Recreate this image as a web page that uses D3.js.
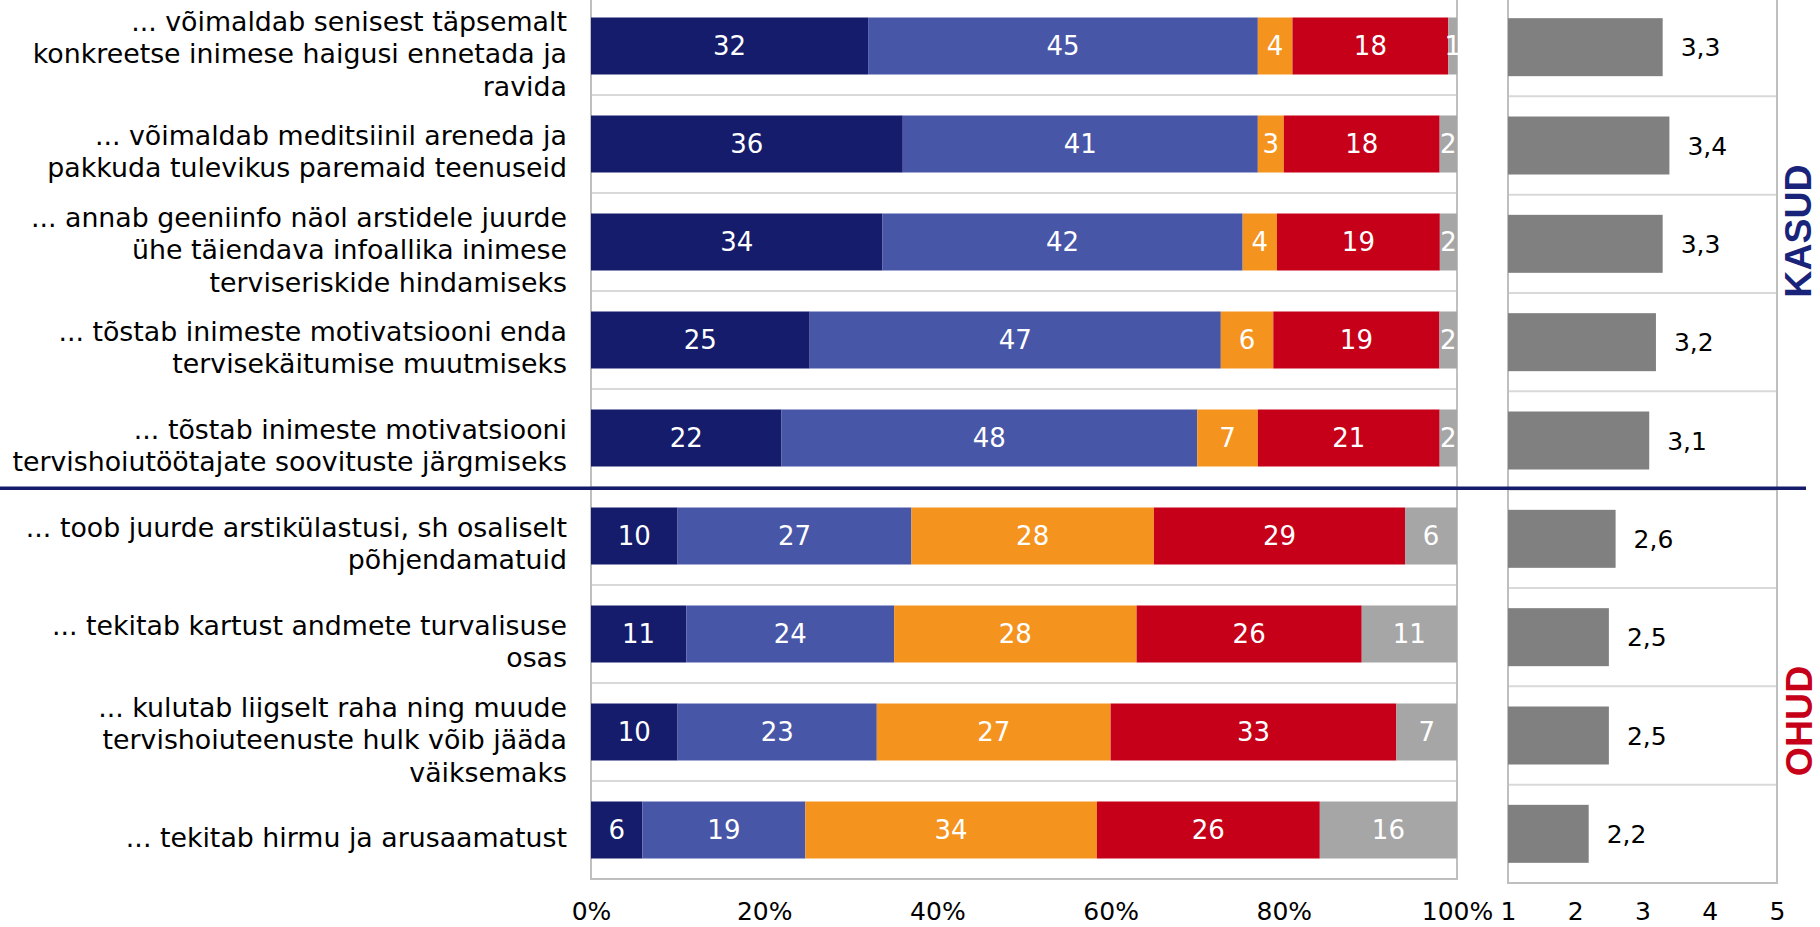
<!DOCTYPE html>
<html>
<head>
<meta charset="utf-8">
<script src="https://cdn.jsdelivr.net/npm/d3@7"></script>
<style>
  html, body { margin: 0; padding: 0; background: #ffffff; }
  svg { display: block; }
</style>
</head>
<body>
<svg id="chart" width="1820" height="927"></svg>
<script>
// ---------- data ----------
const categories = [
  ["... võimaldab senisest täpsemalt", "konkreetse inimese haigusi ennetada ja", "ravida"],
  ["... võimaldab meditsiinil areneda ja", "pakkuda tulevikus paremaid teenuseid"],
  ["... annab geeniinfo näol arstidele juurde", "ühe täiendava infoallika inimese", "terviseriskide hindamiseks"],
  ["... tõstab inimeste motivatsiooni enda", "tervisekäitumise muutmiseks"],
  ["... tõstab inimeste motivatsiooni", "tervishoiutöötajate soovituste järgmiseks"],
  ["... toob juurde arstikülastusi, sh osaliselt", "põhjendamatuid"],
  ["... tekitab kartust andmete turvalisuse", "osas"],
  ["... kulutab liigselt raha ning muude", "tervishoiuteenuste hulk võib jääda", "väiksemaks"],
  ["... tekitab hirmu ja arusaamatust"]
];
const seriesNames = ["s1", "s2", "s3", "s4", "s5"];
const s1 = [32, 36, 34, 25, 22, 10, 11, 10, 6];
const s2 = [45, 41, 42, 47, 48, 27, 24, 23, 19];
const s3 = [4, 3, 4, 6, 7, 28, 28, 27, 34];
const s4 = [18, 18, 19, 19, 21, 29, 26, 33, 26];
const s5 = [1, 2, 2, 2, 2, 6, 11, 7, 16];
const means = [3.3, 3.4, 3.3, 3.2, 3.1, 2.6, 2.5, 2.5, 2.2];
const pctTicks = [0, 0.2, 0.4, 0.6, 0.8, 1];
const meanTicks = [1, 2, 3, 4, 5];
const groupLabels = ["KASUD", "OHUD"];

// ---------- styles ----------
const colors = ["#141C6B", "#4856A7", "#F5931F", "#C7001A", "#A6A6A6"];
const FONT = "'DejaVu Sans', Verdana, sans-serif";

const svg = d3.select("#chart");
const rows = d3.range(categories.length);
const table = rows.map(i => ({ i, s1: s1[i], s2: s2[i], s3: s3[i], s4: s4[i], s5: s5[i] }));

// ---------- left chart (100% stacked) ----------
const L = { x0: 591, x1: 1457, top: -3, bottom: 879 };
const xL = d3.scaleLinear().domain([0, 1]).range([L.x0, L.x1]);
const yL = d3.scaleBand().domain(rows).range([L.top, L.bottom]).padding(0);
const barHL = 57;

const stack = d3.stack().keys(seriesNames).offset(d3.stackOffsetExpand);
const stacked = stack(table);

// separators
svg.append("g").selectAll("line")
  .data(rows.slice(1))
  .join("line")
  .attr("x1", L.x0).attr("x2", L.x1)
  .attr("y1", d => yL(d)).attr("y2", d => yL(d))
  .attr("stroke", "#D9D9D9").attr("stroke-width", 2);

// frame
svg.append("path")
  .attr("d", `M${L.x0},${L.top}V${L.bottom}H${L.x1}V${L.top}`)
  .attr("fill", "none").attr("stroke", "#BFBFBF").attr("stroke-width", 2);

const gL = svg.append("g");
stacked.forEach((layer, k) => {
  const g = gL.append("g");
  g.selectAll("rect").data(layer).join("rect")
    .attr("x", d => xL(d[0]))
    .attr("width", d => xL(d[1]) - xL(d[0]))
    .attr("y", d => yL(d.data.i) + (yL.bandwidth() - barHL) / 2)
    .attr("height", barHL)
    .attr("fill", colors[k]);
});
stacked.forEach((layer, k) => {
  gL.append("g").selectAll("text").data(layer).join("text")
    .attr("x", d => (xL(d[0]) + xL(d[1])) / 2)
    .attr("y", d => yL(d.data.i) + yL.bandwidth() / 2)
    .attr("dy", "0.36em")
    .attr("text-anchor", "middle")
    .attr("font-family", FONT).attr("font-size", 26)
    .attr("fill", "#ffffff")
    .text(d => d.data[layer.key]);
});

// category labels
const lh = 32.5;
const gCat = svg.append("g");
rows.forEach(i => {
  const lines = categories[i];
  const cy = yL(i) + yL.bandwidth() / 2 + 9;
  const t = gCat.append("text")
    .attr("text-anchor", "end")
    .attr("font-family", FONT).attr("font-size", 26.8)
    .attr("fill", "#000");
  lines.forEach((ln, j) => {
    t.append("tspan")
      .attr("x", 567)
      .attr("y", cy + (j - (lines.length - 1) / 2) * lh)
      .attr("dy", "0.3em")
      .text(ln);
  });
});

// x axis left
const axL = svg.append("g").attr("transform", `translate(0,${L.bottom})`)
  .call(d3.axisBottom(xL).tickValues(pctTicks).tickSize(0).tickPadding(0).tickFormat(d3.format(".0%")));
axL.select(".domain").remove();
axL.selectAll("text").attr("font-family", FONT).attr("font-size", 25).attr("fill", "#000")
  .attr("y", 41).attr("dy", 0);

// ---------- right chart (means) ----------
const R = { x0: 1508, x1: 1777, top: -2, bottom: 883 };
const xR = d3.scaleLinear().domain([1, 5]).range([R.x0, R.x1]);
const yR = d3.scaleBand().domain(rows).range([R.top, R.bottom]).padding(0);
const barHR = 58;

svg.append("g").selectAll("line")
  .data(rows.slice(1))
  .join("line")
  .attr("x1", R.x0).attr("x2", R.x1)
  .attr("y1", d => yR(d)).attr("y2", d => yR(d))
  .attr("stroke", "#D9D9D9").attr("stroke-width", 2);

svg.append("path")
  .attr("d", `M${R.x0},${R.top}V${R.bottom}H${R.x1}V${R.top}`)
  .attr("fill", "none").attr("stroke", "#BFBFBF").attr("stroke-width", 2);

svg.append("g").selectAll("rect").data(rows).join("rect")
  .attr("x", xR(1))
  .attr("width", i => xR(means[i]) - xR(1))
  .attr("y", i => yR(i) + (yR.bandwidth() - barHR) / 2)
  .attr("height", barHR)
  .attr("fill", "#808080");

svg.append("g").selectAll("text").data(rows).join("text")
  .attr("x", i => xR(means[i]) + 18)
  .attr("y", i => yR(i) + yR.bandwidth() / 2)
  .attr("dy", "0.36em")
  .attr("font-family", FONT).attr("font-size", 25)
  .attr("fill", "#000")
  .text(i => d3.format(".1f")(means[i]).replace(".", ","));

const axR = svg.append("g").attr("transform", `translate(0,${L.bottom})`)
  .call(d3.axisBottom(xR).tickValues(meanTicks).tickSize(0).tickPadding(0).tickFormat(d3.format("d")));
axR.select(".domain").remove();
axR.selectAll("text").attr("font-family", FONT).attr("font-size", 25).attr("fill", "#000")
  .attr("y", 41).attr("dy", 0);

// ---------- divider and group labels ----------
svg.append("line")
  .attr("x1", 0).attr("x2", 1806)
  .attr("y1", (yR(4) + yR.bandwidth() + yL(5)) / 2)
  .attr("y2", (yR(4) + yR.bandwidth() + yL(5)) / 2)
  .attr("stroke", "#141C6B").attr("stroke-width", 3.5);

svg.append("text")
  .attr("transform", `translate(1811,231) rotate(-90)`)
  .attr("text-anchor", "middle")
  .attr("font-family", "'Liberation Sans', Arial, sans-serif")
  .attr("font-weight", "bold").attr("font-size", 37.5)
  .attr("fill", "#1A237A")
  .text(groupLabels[0]);

svg.append("text")
  .attr("transform", `translate(1812,721) rotate(-90)`)
  .attr("text-anchor", "middle")
  .attr("font-family", "'Liberation Sans', Arial, sans-serif")
  .attr("font-weight", "bold").attr("font-size", 37.5)
  .attr("fill", "#C7001A")
  .text(groupLabels[1]);
</script>
</body>
</html>
